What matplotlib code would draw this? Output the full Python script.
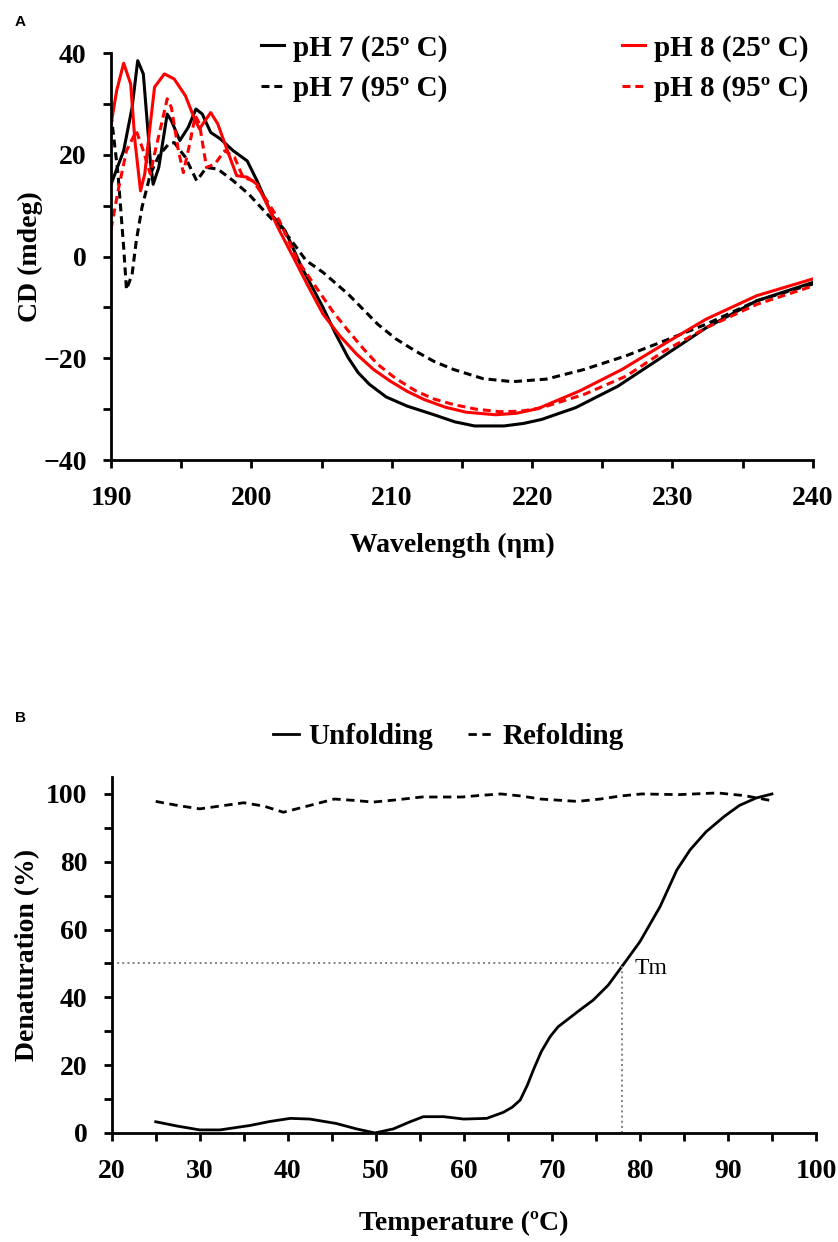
import numpy as np
import matplotlib
matplotlib.use('Agg')
import matplotlib.pyplot as plt
from matplotlib.ticker import MultipleLocator

plt.rcParams['font.family'] = ['Liberation Serif', 'DejaVu Serif']
plt.rcParams['font.weight'] = 'bold'

# ---- panel A : CD spectra ----
wl_p7_25 = [190.0, 190.9, 191.5, 191.9, 192.3, 192.8, 193.0, 193.4, 194.0, 194.3, 194.9, 195.5, 196.05, 196.5,
            197.1, 197.8, 198.7, 199.7, 200.4, 201.5, 202.4, 203.6, 205.1, 206.0, 206.9, 207.6, 208.4, 209.6,
            211.1, 212.9, 214.5, 215.9, 218.0, 219.4, 220.7, 223.1, 226.1, 229.4, 232.4, 236.0, 240.0]
cd_p7_25 = [14.2, 20.8, 29.3, 38.5, 35.9, 18.8, 14.2, 17.5, 28.0, 26.7, 22.8, 25.4, 29.0, 28.0,
            24.4, 23.1, 20.8, 18.8, 14.9, 8.0, 5.1, -2.2, -10.0, -15.2, -19.9, -22.8, -25.1, -27.6,
            -29.4, -31.0, -32.5, -33.3, -33.3, -32.8, -32.0, -29.7, -25.5, -19.5, -14.0, -8.7, -5.1]

wl_p7_95 = [190.0, 190.5, 190.9, 191.1, 191.5, 191.8, 192.2, 192.8, 193.4, 194.1, 194.5, 195.3, 196.1, 196.8,
            197.6, 198.7, 199.8, 200.9, 202.7, 203.9, 205.1, 206.9, 209.0, 210.3, 211.7, 213.0, 214.4, 216.5,
            218.6, 221.0, 223.7, 226.7, 229.4, 232.4, 236.0, 240.0]
cd_p7_95 = [28.0, 16.2, 1.8, -6.5, -3.5, 3.1, 9.6, 16.2, 19.8, 22.1, 22.4, 19.5, 14.9, 17.5,
            17.2, 14.9, 12.3, 9.0, 3.7, -0.8, -3.1, -7.4, -13.3, -16.2, -18.6, -20.6, -22.2, -24.0,
            -24.6, -24.1, -22.2, -19.5, -16.6, -13.3, -8.7, -5.4]

wl_p8_25 = [190.0, 190.4, 190.9, 191.4, 191.7, 192.1, 192.4, 192.8, 193.1, 193.8, 194.5, 195.3, 195.9, 196.3,
            197.1, 197.6, 198.2, 198.95, 199.7, 200.4, 201.1, 202.0, 203.0, 204.0, 205.1, 206.3, 207.5, 208.7,
            209.9, 211.1, 212.3, 213.8, 215.3, 217.4, 218.9, 220.4, 223.4, 226.4, 229.4, 232.4, 236.0, 240.0]
cd_p8_25 = [26.0, 32.6, 38.0, 33.9, 22.8, 12.9, 16.2, 26.1, 33.3, 35.9, 34.9, 31.6, 27.4, 25.1,
            28.3, 26.1, 21.5, 15.9, 15.6, 14.2, 10.3, 5.1, -0.2, -5.6, -11.3, -15.6, -19.2, -22.2,
            -24.5, -26.5, -28.1, -29.6, -30.6, -31.1, -30.8, -29.9, -26.4, -22.2, -17.2, -12.3, -7.7, -4.4]

wl_p8_95 = [190.0, 190.5, 191.1, 191.8, 192.3, 192.8, 193.1, 193.6, 194.0, 194.3, 194.8, 195.15, 195.6, 196.0,
            196.3, 196.8, 197.4, 198.1, 198.8, 199.4, 200.1, 201.1, 202.0, 203.3, 204.8, 205.8, 206.9, 208.0,
            209.0, 210.3, 211.7, 213.0, 214.4, 216.0, 217.7, 219.2, 220.7, 223.7, 226.7, 229.4, 232.4, 236.0, 240.0]
cd_p8_95 = [5.4, 12.9, 20.8, 24.7, 20.8, 16.2, 20.2, 26.1, 31.0, 29.3, 20.8, 16.5, 22.1, 27.7,
            26.1, 17.5, 18.2, 20.8, 19.5, 15.6, 14.9, 11.0, 7.0, -0.8, -6.8, -10.8, -14.6, -18.2,
            -21.2, -24.0, -26.4, -28.0, -29.1, -30.0, -30.5, -30.4, -29.7, -27.1, -23.5, -18.6, -14.0, -9.4, -5.8]

# ---- panel B : thermal denaturation ----
t_unf = [25, 27.5, 30.0, 32.3, 35.7, 38.0, 40.3, 42.5, 45.5, 47.8, 49.9, 52.0, 53.8, 55.4, 57.7, 60.0,
         62.6, 64.5, 65.5, 66.4, 67.2, 67.9, 68.8, 69.8, 70.7, 71.7, 73.2, 74.7, 76.4, 78.1, 80.0, 82.3,
         84.2, 85.7, 87.5, 89.6, 91.3, 93.2, 95.0]
den_unf = [3.3, 2.0, 0.9, 0.9, 2.2, 3.4, 4.3, 4.1, 2.8, 1.2, 0.0, 1.2, 3.2, 4.8, 4.8, 4.1,
           4.3, 6.1, 7.6, 9.7, 14.0, 18.6, 24.0, 28.4, 31.3, 33.3, 36.3, 39.2, 43.6, 49.6, 56.4, 66.8,
           77.6, 83.5, 88.8, 93.4, 96.6, 98.8, 100.0]

t_ref = [25, 27.5, 30, 32.5, 35, 37.3, 39.5, 42.5, 45.3, 47.5, 49.7, 52.5, 55.2, 59.8, 62.0, 64.2,
         66.5, 68.7, 72.9, 75.5, 77.8, 80.2, 84.4, 88.8, 91.9, 95]
den_ref = [97.8, 96.6, 95.6, 96.5, 97.4, 96.4, 94.6, 96.6, 98.5, 98.1, 97.6, 98.3, 99.1, 99.1, 99.6, 100.0,
           99.4, 98.5, 97.8, 98.5, 99.4, 100.0, 99.8, 100.3, 99.5, 98.0]

tm = 78
tm_val = 50

fig = plt.figure(figsize=(8.38, 12.42), dpi=100)

dash = (0, (2.6, 1.6))
lw = 2.2

axA = fig.add_axes([0.1325, 0.6296, 0.8375, 0.3277])
axA.plot(wl_p7_25, cd_p7_25, color='black', lw=lw, label='pH 7 (25º C)')
axA.plot(wl_p7_95, cd_p7_95, color='black', lw=lw, ls=dash, label='pH 7 (95º C)')
axA.plot(wl_p8_25, cd_p8_25, color='#ff0000', lw=lw, label='pH 8 (25º C)')
axA.plot(wl_p8_95, cd_p8_95, color='#ff0000', lw=lw, ls=dash, label='pH 8 (95º C)')
axA.set_xlim(190, 240)
axA.set_ylim(-40, 40)
axA.xaxis.set_major_locator(MultipleLocator(10))
axA.xaxis.set_minor_locator(MultipleLocator(5))
axA.yaxis.set_major_locator(MultipleLocator(20))
axA.yaxis.set_minor_locator(MultipleLocator(10))
axA.set_xlabel('Wavelength (ηm)', fontsize=20, fontweight='bold')
axA.set_ylabel('CD (mdeg)', fontsize=20, fontweight='bold')
axA.xaxis.set_label_coords(0.486, -0.178)
axA.yaxis.set_label_coords(-0.097, 0.5)
fig.legend(handles=axA.lines, loc='center', bbox_to_anchor=(0.638, 0.945), ncol=2, frameon=False,
           handlelength=0.8, handletextpad=0.3, columnspacing=6.0, labelspacing=0.45,
           prop={'weight': 'bold', 'size': 21})

axB = fig.add_axes([0.1333, 0.0878, 0.8404, 0.2866])
axB.plot(t_unf, den_unf, color='black', lw=2.0, label='Unfolding')
axB.plot(t_ref, den_ref, color='black', lw=2.0, ls=(0, (3, 2)), label='Refolding')
axB.plot([20, tm], [tm_val, tm_val], color='#808080', lw=1.4, ls=':')
axB.plot([tm, tm], [0, tm_val], color='#808080', lw=1.4, ls=':')
axB.text(tm + 1.4, tm_val - 1.5, 'Tm', fontsize=17, fontweight='normal', va='center', ha='left')
axB.set_xlim(20, 100)
axB.set_ylim(0, 105)
axB.xaxis.set_major_locator(MultipleLocator(10))
axB.xaxis.set_minor_locator(MultipleLocator(5))
axB.yaxis.set_major_locator(MultipleLocator(20))
axB.yaxis.set_minor_locator(MultipleLocator(10))
axB.set_xlabel('Temperature (ºC)', fontsize=20, fontweight='bold')
axB.set_ylabel('Denaturation (%)', fontsize=20, fontweight='bold')
axB.xaxis.set_label_coords(0.5, -0.219)
axB.yaxis.set_label_coords(-0.101, 0.5)
fig.legend(handles=axB.lines[:2], loc='center', bbox_to_anchor=(0.535, 0.407), ncol=2, frameon=False,
           handlelength=0.9, handletextpad=0.3, columnspacing=1.2,
           prop={'weight': 'bold', 'size': 21})

for ax in (axA, axB):
    for s in ('top', 'right'):
        ax.spines[s].set_visible(False)
    for s in ('left', 'bottom'):
        ax.spines[s].set_linewidth(2.0)
    ax.tick_params(which='both', direction='out', length=5.5, width=2.0, labelsize=20)
    ax.tick_params(axis='y', pad=12)
    ax.tick_params(axis='x', pad=13)
    for lab in ax.get_xticklabels() + ax.get_yticklabels():
        lab.set_fontweight('bold')

fig.text(0.018, 0.979, 'A', fontsize=11, fontweight='bold', family=['Liberation Sans', 'DejaVu Sans'])
fig.text(0.018, 0.419, 'B', fontsize=11, fontweight='bold', family=['Liberation Sans', 'DejaVu Sans'])

fig.savefig('out.png', dpi=100, facecolor='white')
